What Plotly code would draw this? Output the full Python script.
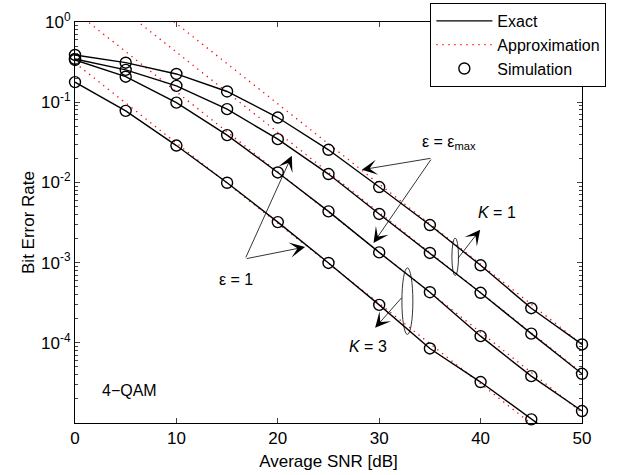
import plotly.graph_objects as go

# Average SNR grid [dB]
snr_db = [0, 5, 10, 15, 20, 25, 30, 35, 40, 45, 50]

# Exact BER, 4-QAM
exact_k1_emax = [0.388, 0.311, 0.225, 0.136, 0.0644, 0.0255, 0.00875, 0.00294, 9.25e-4, 2.70e-4, 9.53e-5]
exact_k1_e1 = [0.346, 0.253, 0.160, 0.0819, 0.0346, 0.0127, 0.00404, 0.00132, 4.20e-4, 1.30e-4, 4.11e-5]
exact_k3_emax = [0.336, 0.208, 0.0989, 0.0389, 0.0133, 0.00435, 0.00134, 4.27e-4, 1.21e-4, 3.84e-5, 1.41e-5]
exact_k3_e1 = [0.178, 0.078, 0.0288, 0.0099, 0.0032, 9.9e-4, 2.97e-4, 8.5e-5, 3.24e-5, 1.11e-5, 3.9e-6]

# High-SNR approximation
approx_k1_emax = [9.55, 3.02, 0.955, 0.302, 0.0955, 0.0302, 0.00955, 0.00302, 9.55e-4, 3.02e-4, 9.55e-5]
approx_k1_e1 = [4.22, 1.33, 0.422, 0.133, 0.0422, 0.0133, 0.00422, 0.00133, 4.22e-4, 1.33e-4, 4.22e-5]
approx_k3_emax = [1.35, 0.427, 0.135, 0.0427, 0.0135, 0.00427, 0.00135, 4.27e-4, 1.35e-4, 4.27e-5, 1.35e-5]
approx_k3_e1 = [0.309, 0.0977, 0.0309, 0.00977, 0.00309, 9.77e-4, 3.09e-4, 9.77e-5, 3.09e-5, 9.77e-6, 3.09e-6]

# Monte-Carlo simulation
sim_k1_emax = [0.388, 0.311, 0.225, 0.136, 0.0644, 0.0255, 0.00875, 0.00294, 9.25e-4, 2.70e-4, 9.53e-5]
sim_k1_e1 = [0.346, 0.253, 0.160, 0.0819, 0.0346, 0.0127, 0.00404, 0.00132, 4.20e-4, 1.30e-4, 4.11e-5]
sim_k3_emax = [0.336, 0.208, 0.0989, 0.0389, 0.0133, 0.00435, 0.00134, 4.27e-4, 1.21e-4, 3.84e-5, 1.41e-5]
sim_k3_e1 = [0.178, 0.078, 0.0288, 0.0099, 0.0032, 9.9e-4, 2.97e-4, 8.5e-5, 3.24e-5, 1.11e-5, None]

y_tick_vals = [1, 1e-1, 1e-2, 1e-3, 1e-4]
y_tick_text = ["10<sup>0</sup>", "10<sup>-1</sup>", "10<sup>-2</sup>", "10<sup>-3</sup>", "10<sup>-4</sup>"]
x_tick_vals = [0, 10, 20, 30, 40, 50]

FONT = "Liberation Sans, Arial, Helvetica, sans-serif"

fig = go.Figure()

for i, ys in enumerate([approx_k1_emax, approx_k1_e1, approx_k3_emax, approx_k3_e1]):
    fig.add_trace(go.Scatter(
        x=snr_db, y=ys, mode="lines", name="Approximation",
        line=dict(color="#ff0000", width=1.3, dash="1.3px,4.7px"),
        showlegend=(i == 0), legendrank=2,
    ))

for i, ys in enumerate([exact_k1_emax, exact_k1_e1, exact_k3_emax, exact_k3_e1]):
    fig.add_trace(go.Scatter(
        x=snr_db, y=ys, mode="lines", name="Exact",
        line=dict(color="black", width=1.4),
        showlegend=(i == 0), legendrank=1,
    ))

for i, ys in enumerate([sim_k1_emax, sim_k1_e1, sim_k3_emax, sim_k3_e1]):
    fig.add_trace(go.Scatter(
        x=snr_db, y=ys, mode="markers", name="Simulation",
        marker=dict(symbol="circle-open", size=11, color="black", line=dict(width=1.4, color="black")),
        cliponaxis=False, showlegend=(i == 0), legendrank=3,
    ))

# Arrows: (head x, head log10 y, tail x, tail log10 y)
arrows = [
    (21.38, -1.668, 16.78, -2.954),
    (22.69, -2.805, 16.78, -2.954),
    (28.29, -1.842, 35.20, -1.697),
    (29.44, -2.755, 35.20, -1.697),
    (29.60, -3.813, 32.34, -3.420),
    (39.96, -2.589, 37.67, -2.963),
]
annotations = []
for hx, hy, tx, ty in arrows:
    annotations.append(dict(
        x=hx, y=hy, ax=tx, ay=ty, xref="x", yref="y", axref="x", ayref="y",
        text="", showarrow=True, arrowhead=3, arrowsize=3.2, arrowwidth=0.8,
        arrowcolor="black", standoff=0, startstandoff=0,
    ))

labels = [
    (36.9, -1.507, "ε = ε<sub>max</sub>"),
    (15.89, -3.212, "ε = 1"),
    (41.64, -2.378, "<i>K</i> = 1"),
    (28.91, -4.046, "<i>K</i> = 3"),
    (5.33, -4.594, "4−QAM"),
]
for x, y, t in labels:
    annotations.append(dict(
        x=x, y=y, xref="x", yref="y", text=t, showarrow=False,
        font=dict(family=FONT, size=16, color="black"),
        xanchor="center", yanchor="middle",
    ))

# Ellipses grouping the K = 3 and K = 1 curve pairs (y in axis-domain fraction)
shapes = [
    dict(type="circle", xref="x", yref="y domain", x0=32.24, x1=33.32, y0=0.2208, y1=0.3868,
         line=dict(color="black", width=0.8)),
    dict(type="circle", xref="x", yref="y domain", x0=37.17, x1=37.82, y0=0.3676, y1=0.4614,
         line=dict(color="black", width=0.8)),
]

fig.update_layout(
    width=618, height=475,
    margin=dict(l=75, r=36, t=22, b=52, autoexpand=False),
    plot_bgcolor="white", paper_bgcolor="white",
    font=dict(family=FONT, size=17, color="black"),
    annotations=annotations,
    shapes=shapes,
    legend=dict(
        x=1.048, y=1.0474, xanchor="right", yanchor="top",
        bgcolor="white", bordercolor="black", borderwidth=1,
        font=dict(family=FONT, size=16, color="black"),
        itemwidth=56, tracegroupgap=0,
    ),
    xaxis=dict(
        range=[0, 50], tickvals=x_tick_vals, ticks="inside", ticklen=5,
        showline=True, linecolor="black", linewidth=1, mirror="ticks",
        showgrid=False, zeroline=False,
        title=dict(text="Average SNR [dB]", standoff=7, font=dict(size=17)),
    ),
    yaxis=dict(
        type="log", range=[-5, 0], tickvals=y_tick_vals, ticktext=y_tick_text,
        ticks="inside", ticklen=5,
        showline=True, linecolor="black", linewidth=1, mirror="ticks",
        showgrid=False, zeroline=False,
        minor=dict(ticks="inside", ticklen=3,
                   tickvals=[m * 10.0 ** e for e in range(-5, 0) for m in range(2, 10)],
                   showgrid=False),
        title=dict(text="Bit Error Rate", standoff=2, font=dict(size=17)),
    ),
)

fig.write_html("out.html")
